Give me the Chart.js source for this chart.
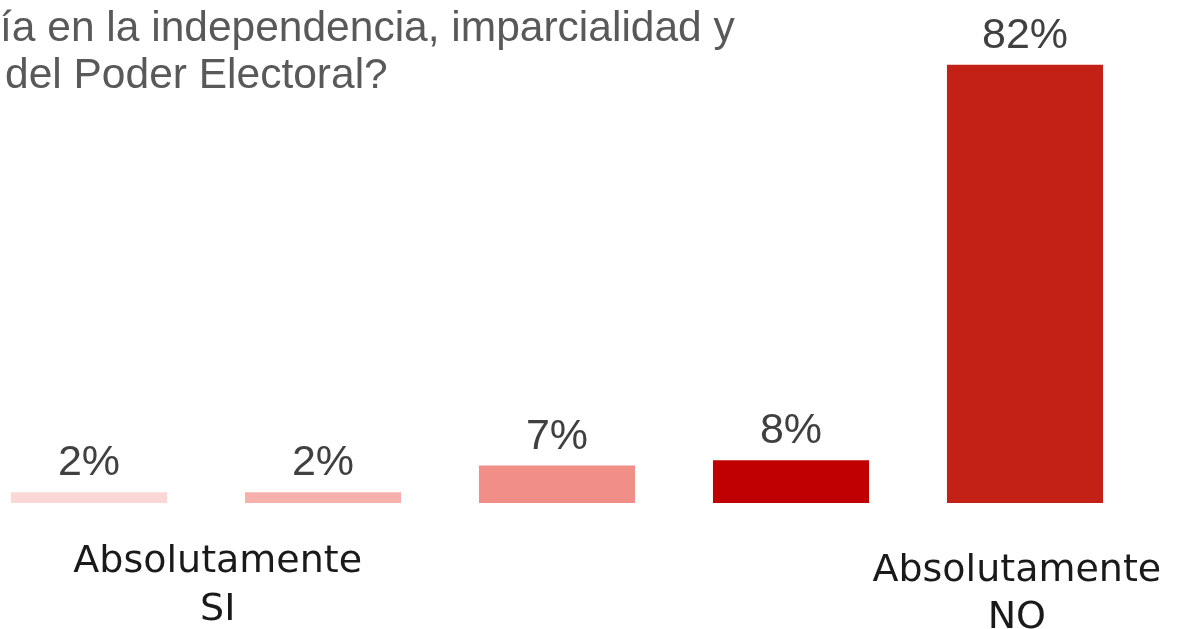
<!DOCTYPE html>
<html>
<head>
<meta charset="utf-8">
<script src="https://cdn.jsdelivr.net/npm/chart.js@4/dist/chart.umd.min.js"></script>
<style>
  html, body { margin: 0; padding: 0; background: #fff; overflow: hidden; width: 1182px; height: 629px; }
  #wrap { position: absolute; left: -28px; top: 0; width: 1210px; height: 629px; }
</style>
</head>
<body>
<div id="wrap"><canvas id="c" width="1210" height="629"></canvas></div>
<script>
const titleLines = ['ía en la independencia, imparcialidad y', 'del Poder Electoral?'];
const categories = ['1', '2', '3', '4', '5'];
const values = [2, 2, 7, 8, 82];
const barColors = ['#FBD8D6', '#F6B1AD', '#F28E88', '#C00000', '#C42116'];
const scaleEndLabels = [['Absolutamente', 'SI'], ['Absolutamente', 'NO']];

const overlay = {
  id: 'overlay',
  afterDatasetsDraw(chart) {
    const ctx = chart.ctx;
    const meta = chart.getDatasetMeta(0);
    const x = chart.scales.x;
    ctx.save();
    // value labels
    ctx.fillStyle = '#404040';
    ctx.font = '43px "Liberation Sans", Arial, sans-serif';
    ctx.textAlign = 'center';
    ctx.textBaseline = 'alphabetic';
    meta.data.forEach((bar, i) => {
      ctx.fillText(values[i] + '%', bar.x, bar.y - 17);
    });
    // title (cropped at left edge)
    ctx.fillStyle = '#595959';
    ctx.font = '42.5px "Liberation Sans", Arial, sans-serif';
    ctx.textAlign = 'left';
    ctx.fillText(titleLines[0], 28, 41);
    ctx.fillText(titleLines[1], 33, 88);
    // scale end labels
    ctx.fillStyle = '#1a1a1a';
    ctx.font = '38px "DejaVu Sans", sans-serif';
    ctx.textAlign = 'center';
    const p0 = x.getPixelForValue(0.55);
    const p1 = x.getPixelForValue(3.965);
    ctx.fillText(scaleEndLabels[0][0], p0, 572);
    ctx.fillText(scaleEndLabels[0][1], p0, 620);
    ctx.fillText(scaleEndLabels[1][0], p1, 581);
    ctx.fillText(scaleEndLabels[1][1], p1, 628);
    ctx.restore();
  }
};

new Chart(document.getElementById('c'), {
  type: 'bar',
  data: {
    labels: categories,
    datasets: [{
      data: values,
      backgroundColor: barColors,
      borderWidth: 0,
      categoryPercentage: 1,
      barPercentage: 0.667
    }]
  },
  options: {
    responsive: false,
    animation: false,
    layout: { padding: { top: 22, bottom: 126, left: 0, right: 40 } },
    plugins: { legend: { display: false }, tooltip: { enabled: false }, title: { display: false } },
    scales: {
      x: { display: false, grid: { display: false } },
      y: { display: false, min: 0, max: 90, grid: { display: false } }
    }
  },
  plugins: [overlay]
});
</script>
</body>
</html>
